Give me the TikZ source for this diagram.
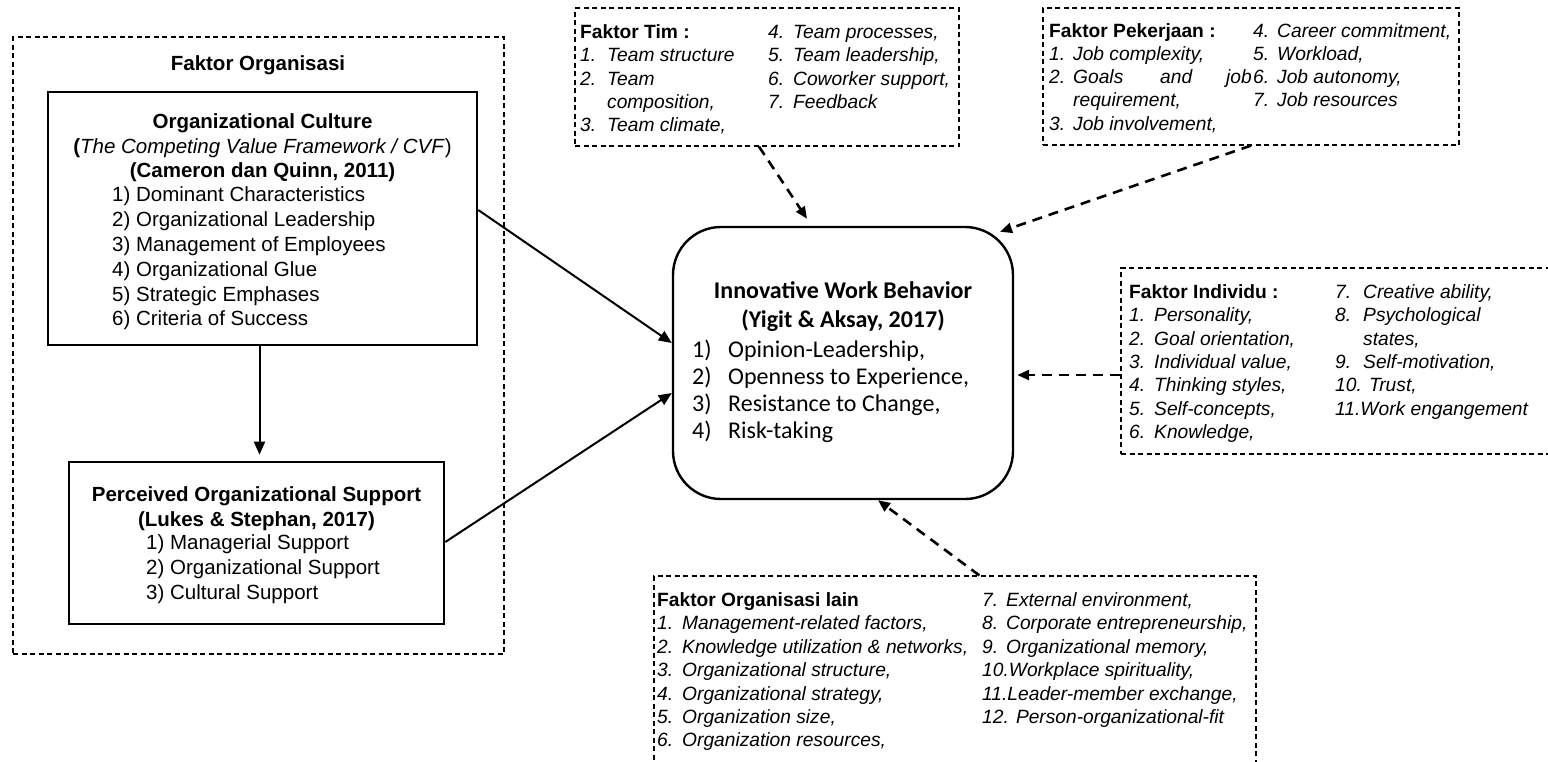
\documentclass[tikz,border=0pt]{standalone}
\usepackage{fontspec}
\setmainfont{Liberation Sans}
\newfontfamily\calibrifont{Carlito}
\usetikzlibrary{arrows.meta}

% font sizes (1pt = one unit of the drawing grid)
\newcommand\fbig{\fontsize{20.5}{24.6}\selectfont}
\newcommand\ffac{\fontsize{19.2}{23.3}\selectfont}
\newcommand\fiwb{\calibrifont\fontsize{24}{28}\selectfont}
\newcommand\lnum[2]{\makebox[#1][l]{#2}}

\tikzset{
  panel/.style={draw, line width=1.2pt, dash pattern=on 5pt off 3.5pt, inner sep=0pt},
  solidbox/.style={draw, line width=2.6pt, inner sep=0pt},
  roundbox/.style={draw, line width=2.4pt, rounded corners=48pt, inner sep=0pt},
  flow/.style={-{Triangle[length=13pt,width=11pt]}, line width=2pt},
  dflow/.style={-{Triangle[length=12pt,width=10pt]}, line width=2.6pt, dash pattern=on 10pt off 7pt},
  bigc/.style={anchor=base, inner sep=0pt, font=\fbig\bfseries},
  bigi/.style={anchor=base west, inner sep=0pt, font=\fbig},
  fhead/.style={anchor=base west, inner sep=0pt, font=\ffac\bfseries},
  fitem/.style={anchor=base west, inner sep=0pt, font=\ffac\itshape},
  iwbc/.style={anchor=base, inner sep=0pt, font=\fiwb\bfseries},
  iwbi/.style={anchor=base west, inner sep=0pt, font=\fiwb},
}

\begin{document}
\begin{tikzpicture}[x=1pt,y=-1pt]
\useasboundingbox (0,0) rectangle (1548,761);

% ---------- boxes ----------
\node[panel, minimum width=491pt, minimum height=617pt] (org) at (258.5,345.5) {};
\node[solidbox, minimum width=429pt, minimum height=253pt] (oc) at (262.5,218.5) {};
\node[solidbox, minimum width=375pt, minimum height=162pt] (pos) at (256.5,543) {};
\node[roundbox, minimum width=340pt, minimum height=272pt] (iwb) at (843,363) {};
\node[panel, minimum width=384pt, minimum height=138pt] (tim) at (767,77) {};
\node[panel, minimum width=416pt, minimum height=137pt] (kerja) at (1251,76.5) {};
\node[panel, minimum width=449pt, minimum height=186pt] (ind) at (1345.5,361) {};
\node[panel, minimum width=602pt, minimum height=224pt] (low) at (955,688) {};

% ---------- Faktor Organisasi ----------
\node[bigc] (org-h) at (258,70) {Faktor Organisasi};

\node[bigc] (oc-t1) at (262.5,128) {Organizational Culture};
\node[anchor=base, inner sep=0pt, font=\fbig] (oc-t2) at (262.5,153)
  {\textbf{(}\textit{The Competing Value Framework / CVF})};
\node[bigc] (oc-t3) at (262.5,177) {(Cameron dan Quinn, 2011)};
\foreach \txt [count=\i] in {Dominant Characteristics, Organizational Leadership,
    Management of Employees, Organizational Glue, Strategic Emphases, Criteria of Success}
  \node[bigi] (oc-i\i) at (112,{177+24.8*\i}) {\i) \txt};

\node[bigc] (pos-t1) at (256.5,501) {Perceived Organizational Support};
\node[bigc] (pos-t2) at (256.5,526) {(Lukes \& Stephan, 2017)};
\foreach \txt [count=\i] in {Managerial Support, Organizational Support, Cultural Support}
  \node[bigi] (pos-i\i) at (146,{525+24.8*\i}) {\i) \txt};

% ---------- Innovative Work Behavior ----------
\node[iwbc] (iwb-t1) at (843,298) {Innovative Work Behavior};
\node[iwbc] (iwb-t2) at (843,327) {(Yigit \& Aksay, 2017)};
\foreach \txt [count=\i] in {{Opinion-Leadership,}, {Openness to Experience,},
    {Resistance to Change,}, {Risk-taking}}
  \node[iwbi] (iwb-i\i) at (692,{329.8+27.2*\i}) {\lnum{36pt}{\i)}\txt};

% ---------- Faktor Tim ----------
\node[fhead] (tim-h) at (580,38.5) {Faktor Tim :};
\node[fitem] (tim-a1) at (580,61.8) {\lnum{27pt}{1.}Team structure};
\node[fitem] (tim-a2) at (580,85.1) {\lnum{27pt}{2.}Team};
\node[fitem] (tim-a3) at (580,108.4) {\lnum{27pt}{}composition,};
\node[fitem] (tim-a4) at (580,131.7) {\lnum{27pt}{3.}Team climate,};
\node[fitem] (tim-b1) at (768,38.5) {\lnum{25pt}{4.}Team processes,};
\node[fitem] (tim-b2) at (768,61.8) {\lnum{25pt}{5.}Team leadership,};
\node[fitem] (tim-b3) at (768,85.1) {\lnum{25pt}{6.}Coworker support,};
\node[fitem] (tim-b4) at (768,108.4) {\lnum{25pt}{7.}Feedback};

% ---------- Faktor Pekerjaan ----------
\node[fhead] (kerja-h) at (1049,37) {Faktor Pekerjaan :};
\node[fitem] (kerja-a1) at (1049,60.3) {\lnum{24pt}{1.}Job complexity,};
\node[fitem] (kerja-a2) at (1049,83.6) {\lnum{24pt}{2.}Goals};
\node[fitem] (kerja-a2b) at (1160,83.6) {and};
\node[fitem, anchor=base east] (kerja-a2c) at (1252,83.6) {job};
\node[fitem] (kerja-a3) at (1049,106.9) {\lnum{24pt}{}requirement,};
\node[fitem] (kerja-a4) at (1049,130.2) {\lnum{24pt}{3.}Job involvement,};
\node[fitem] (kerja-b1) at (1253,37) {\lnum{24pt}{4.}Career commitment,};
\node[fitem] (kerja-b2) at (1253,60.3) {\lnum{24pt}{5.}Workload,};
\node[fitem] (kerja-b3) at (1253,83.6) {\lnum{24pt}{6.}Job autonomy,};
\node[fitem] (kerja-b4) at (1253,106.9) {\lnum{24pt}{7.}Job resources};

% ---------- Faktor Individu ----------
\node[fhead] (ind-h) at (1129,298.5) {Faktor Individu :};
\foreach \txt [count=\i] in {{Personality,}, {Goal orientation,}, {Individual value,},
    {Thinking styles,}, {Self-concepts,}, {Knowledge,}}
  \node[fitem] (ind-a\i) at (1129,{298.5+23.3*\i}) {\lnum{25pt}{\i.}\txt};
\node[fitem] (ind-b1) at (1335,298.5) {\lnum{28pt}{7.}Creative ability,};
\node[fitem] (ind-b2) at (1335,321.8) {\lnum{28pt}{8.}Psychological};
\node[fitem] (ind-b3) at (1335,345.1) {\lnum{28pt}{}states,};
\node[fitem] (ind-b4) at (1335,368.4) {\lnum{28pt}{9.}Self-motivation,};
\node[fitem] (ind-b5) at (1335,391.7) {10. Trust,};
\node[fitem] (ind-b6) at (1335,415.0) {11.Work engangement};

% ---------- Faktor Organisasi lain ----------
\node[fhead] (low-h) at (657,606.5) {Faktor Organisasi lain};
\foreach \txt [count=\i] in {{Management-related factors,}, {Knowledge utilization \& networks,},
    {Organizational structure,}, {Organizational strategy,}, {Organization size,},
    {Organization resources,}}
  \node[fitem] (low-a\i) at (657,{606.5+23.4*\i}) {\lnum{25pt}{\i.}\txt};
\node[fitem] (low-b1) at (982,606.5) {\lnum{24pt}{7.}External environment,};
\node[fitem] (low-b2) at (982,629.9) {\lnum{24pt}{8.}Corporate entrepreneurship,};
\node[fitem] (low-b3) at (982,653.3) {\lnum{24pt}{9.}Organizational memory,};
\node[fitem] (low-b4) at (982,676.7) {10.Workplace spirituality,};
\node[fitem] (low-b5) at (982,700.1) {11.Leader-member exchange,};
\node[fitem] (low-b6) at (982,723.5) {12. Person-organizational-fit};

% ---------- connectors ----------
\draw[flow] ([xshift=-3pt]oc.south) -- ([xshift=-3pt,yshift=6pt]oc.south |- pos.north);
\draw[flow] ([yshift=8.5pt]oc.east) -- ([yshift=20pt]iwb.west);
\draw[flow] ([yshift=1pt]pos.east) -- ([yshift=-30pt]iwb.west);

\draw[dflow] ([xshift=-8pt]tim.south) -- ([xshift=-36pt,yshift=7pt]iwb.north);
\draw[dflow] (kerja.south) -- ([xshift=157pt,yshift=-6pt]iwb.north);
\draw[dflow] ([yshift=-14pt]ind.west) -- ([xshift=3pt,yshift=-12pt]iwb.east);
\draw[dflow] ([xshift=326pt]low.north west) -- ([xshift=35pt]iwb.south);

\end{tikzpicture}
\end{document}
